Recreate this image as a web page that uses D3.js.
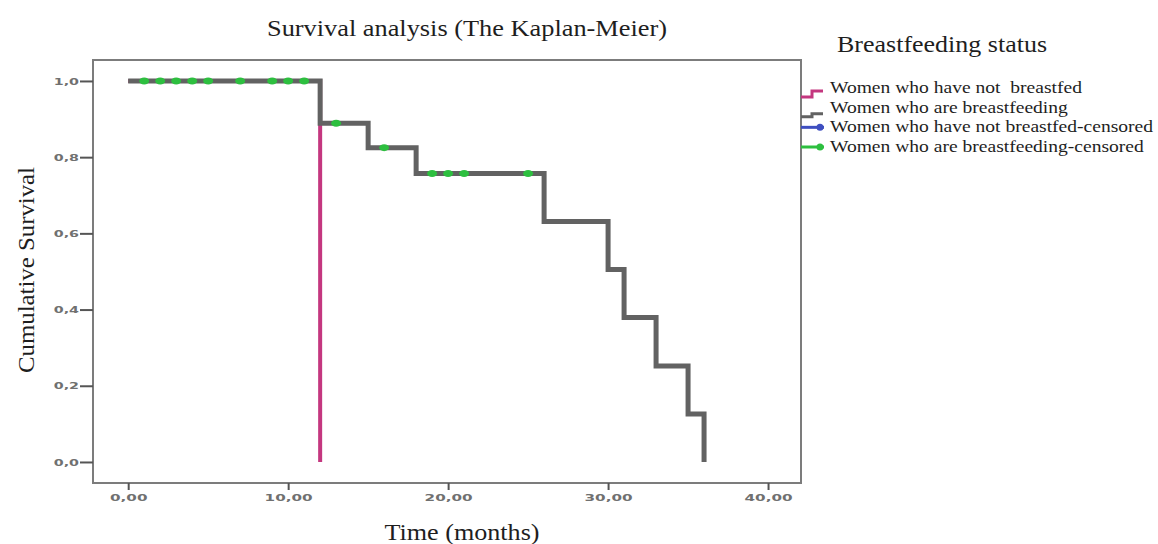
<!DOCTYPE html>
<html>
<head>
<meta charset="utf-8">
<script src="https://cdn.jsdelivr.net/npm/d3@7"></script>
<style>
  body { margin: 0; background: #fff; }
  .serif { font-family: "Liberation Serif", "Times New Roman", Times, serif; fill: #1e1e1e; white-space: pre; }
  .tick text { font-family: "DejaVu Sans", Arial, sans-serif; fill: #707070; }
</style>
</head>
<body>
<div id="content"></div>
<script>
// Set up canvas
var width = 1158, height = 544;

// Data
var notBreastfedTimes = [0, 12];
var notBreastfedSurvival = [1.0, 0.0];

var breastfeedingTimes = [0, 12, 15, 18, 26, 30, 31, 33, 35, 36];
var breastfeedingSurvival = [1.0, 0.889, 0.825, 0.757, 0.631, 0.505, 0.379, 0.252, 0.126, 0.0];

var censoredTimes = [1, 2, 3, 4, 5, 7, 9, 10, 11, 13, 16, 19, 20, 21, 25];

var xTicks = [0, 10, 20, 30, 40];
var yTicks = [0.0, 0.2, 0.4, 0.6, 0.8, 1.0];

var legendLabels = [
  "Women who have not  breastfed",
  "Women who are breastfeeding",
  "Women who have not breastfed-censored",
  "Women who are breastfeeding-censored"
];
var legendColors = ["#c4377f", "#626262", "#3f4fc0", "#2dbf3f"];

// plot frame
var frameLeft = 93, frameRight = 801, frameTop = 60, frameBottom = 483;

var svg = d3.select("#content")
    .append("svg")
    .attr("width", width)
    .attr("height", height)
    .style("background", "#fff");

var xscale = d3.scaleLinear()
    .domain([-2.2, 42.06])
    .range([frameLeft, frameRight]);

var yscale = d3.scaleLinear()
    .domain([-0.0552, 1.055])
    .range([frameBottom, frameTop]);

// widen text horizontally like the stretched original
function stretch(sel, k) {
  sel.each(function() {
    var len = this.getComputedTextLength();
    d3.select(this)
      .attr("textLength", len * k)
      .attr("lengthAdjust", "spacingAndGlyphs");
  });
}

// frame
svg.append("rect")
    .attr("x", frameLeft).attr("y", frameTop)
    .attr("width", frameRight - frameLeft).attr("height", frameBottom - frameTop)
    .attr("fill", "none")
    .attr("stroke", "#7c7c7c")
    .attr("stroke-width", 2);

// axes
var x_axis = d3.axisBottom(xscale)
    .tickValues(xTicks)
    .tickSize(7)
    .tickPadding(4)
    .tickFormat(function(d) { return d.toFixed(2).replace(".", ","); });

var y_axis = d3.axisLeft(yscale)
    .tickValues(yTicks)
    .tickSize(13)
    .tickPadding(1)
    .tickFormat(function(d) { return d.toFixed(1).replace(".", ","); });

var gx = svg.append("g")
    .attr("transform", "translate(0," + frameBottom + ")")
    .call(x_axis);
var gy = svg.append("g")
    .attr("transform", "translate(" + frameLeft + ",0)")
    .call(y_axis);

[gx, gy].forEach(function(g) {
  g.select(".domain").remove();
  g.selectAll(".tick line").attr("stroke", "#555").attr("stroke-width", 2);
  g.selectAll(".tick text").style("font-size", "9.5px").style("font-weight", "bold");
});
stretch(gx.selectAll(".tick text"), 1.6);
stretch(gy.selectAll(".tick text"), 1.5);

// survival curves
var line = d3.line()
    .x(function(d) { return xscale(d[0]); })
    .y(function(d) { return yscale(d[1]); })
    .curve(d3.curveStepAfter);

svg.append("path")
    .datum(d3.zip(notBreastfedTimes, notBreastfedSurvival))
    .attr("d", line)
    .attr("fill", "none")
    .attr("stroke", legendColors[0])
    .attr("stroke-width", 4);

svg.append("path")
    .datum(d3.zip(breastfeedingTimes, breastfeedingSurvival))
    .attr("d", line)
    .attr("fill", "none")
    .attr("stroke", legendColors[1])
    .attr("stroke-width", 5);

// survival value at a time, from the step function
function survivalAt(t) {
  var s = 1;
  for (var i = 0; i < breastfeedingTimes.length; i++) {
    if (breastfeedingTimes[i] <= t) s = breastfeedingSurvival[i];
  }
  return s;
}

svg.selectAll(".censor")
    .data(censoredTimes)
    .enter()
    .append("ellipse")
    .attr("class", "censor")
    .attr("cx", function(d) { return xscale(d); })
    .attr("cy", function(d) { return yscale(survivalAt(d)); })
    .attr("rx", 5)
    .attr("ry", 3.5)
    .attr("fill", legendColors[3]);

// titles (lengths as measured in the picture)
svg.append("text")
    .attr("class", "serif")
    .attr("x", 467)
    .attr("y", 36)
    .attr("text-anchor", "middle")
    .style("font-size", "24px")
    .attr("textLength", 400)
    .attr("lengthAdjust", "spacingAndGlyphs")
    .text("Survival analysis (The Kaplan-Meier)");

svg.append("text")
    .attr("class", "serif")
    .attr("x", 462)
    .attr("y", 540)
    .attr("text-anchor", "middle")
    .style("font-size", "24px")
    .attr("textLength", 155)
    .attr("lengthAdjust", "spacingAndGlyphs")
    .text("Time (months)");

svg.append("text")
    .attr("class", "serif")
    .attr("transform", "translate(34,270) rotate(-90)")
    .attr("text-anchor", "middle")
    .style("font-size", "24px")
    .attr("textLength", 206)
    .attr("lengthAdjust", "spacingAndGlyphs")
    .text("Cumulative Survival");

// legend
svg.append("text")
    .attr("class", "serif")
    .attr("x", 837)
    .attr("y", 52)
    .style("font-size", "23px")
    .attr("textLength", 210)
    .attr("lengthAdjust", "spacingAndGlyphs")
    .text("Breastfeeding status");

var legendY = d3.scaleLinear().domain([0, 3]).range([93, 152]);

var leg = svg.selectAll(".legend")
    .data(legendLabels)
    .enter()
    .append("g")
    .attr("class", "legend")
    .attr("transform", function(d, i) { return "translate(0," + legendY(i) + ")"; });

stretch(leg.append("text")
    .attr("class", "serif")
    .attr("x", 830)
    .attr("y", 0)
    .style("font-size", "17px")
    .text(function(d) { return d; }), 1.15);

// swatches: step shapes for curves, line with dot for censored
leg.each(function(d, i) {
  var g = d3.select(this);
  if (i < 2) {
    var hi = i === 0 ? -2 : 1;
    g.append("path")
      .attr("d", "M801,4H812V" + hi + "H823")
      .attr("fill", "none")
      .attr("stroke", legendColors[i])
      .attr("stroke-width", 3);
  } else {
    g.append("line")
      .attr("x1", 801).attr("x2", 824)
      .attr("y1", -5).attr("y2", -5)
      .attr("stroke", legendColors[i])
      .attr("stroke-width", 3);
    g.append("circle")
      .attr("cx", 820).attr("cy", -5).attr("r", 3.5)
      .attr("fill", legendColors[i]);
  }
});
</script>
</body>
</html>
